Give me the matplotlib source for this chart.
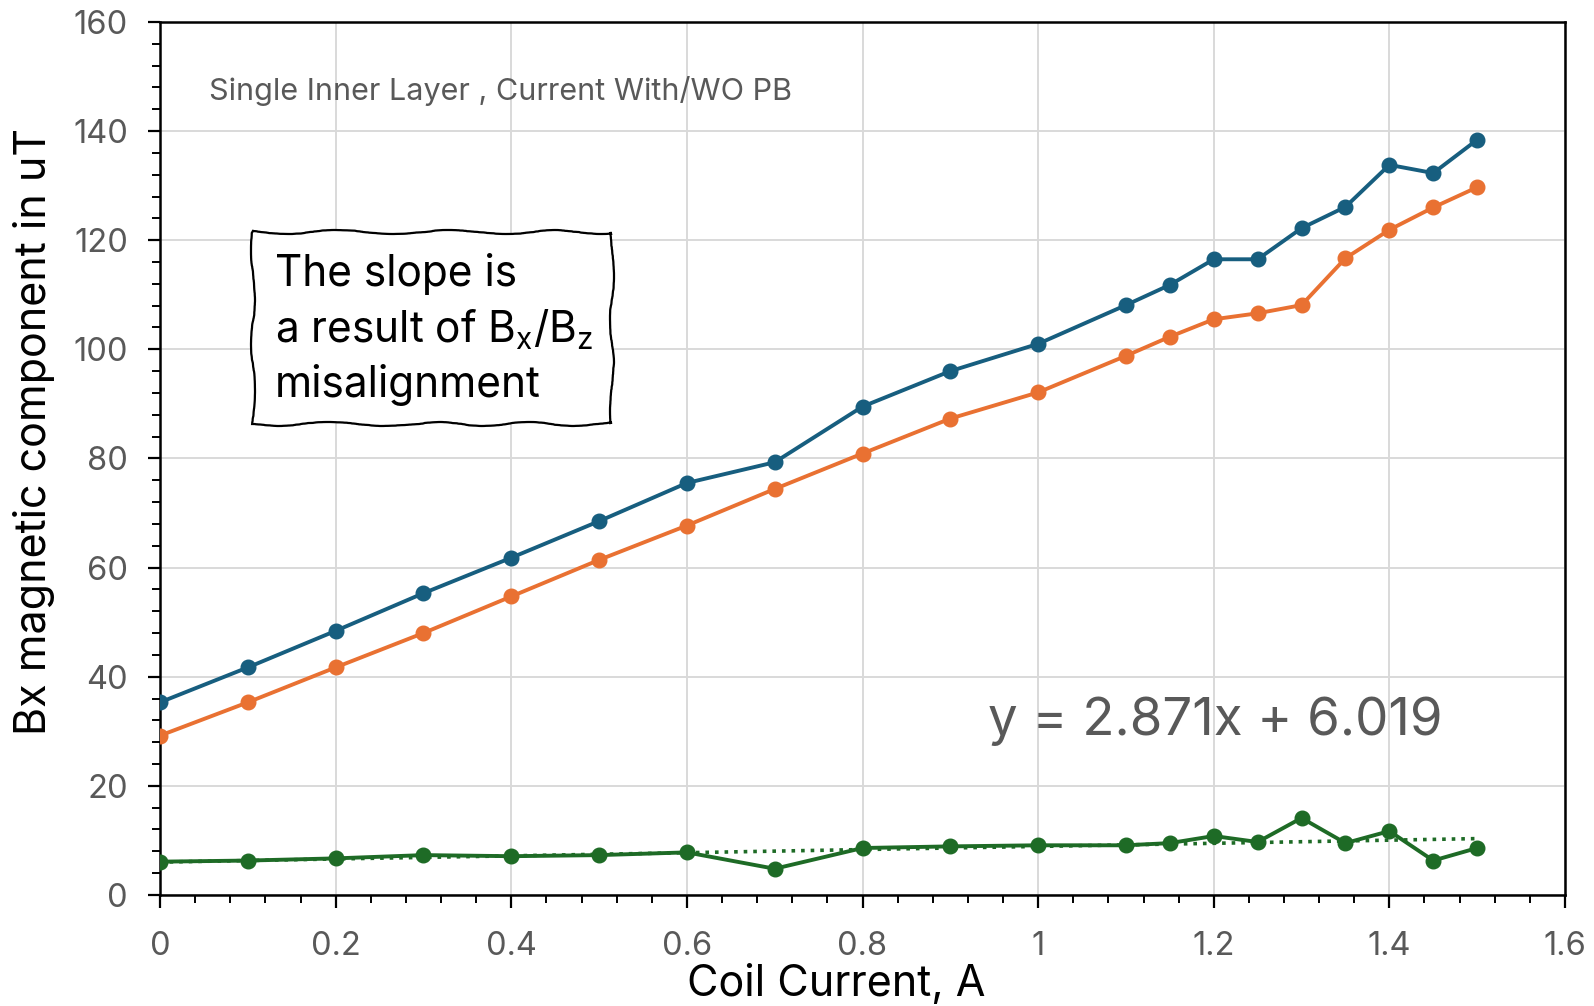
import matplotlib
matplotlib.use("Agg")
import matplotlib.pyplot as plt
from matplotlib.patches import Rectangle
from matplotlib.ticker import MultipleLocator
import numpy as np

current = [0, 0.1, 0.2, 0.3, 0.4, 0.5, 0.6, 0.7, 0.8, 0.9, 1.0,
           1.1, 1.15, 1.2, 1.25, 1.3, 1.35, 1.4, 1.45, 1.5]
bx_blue = [35.3, 41.7, 48.4, 55.3, 61.8, 68.5, 75.5, 79.3, 89.5, 96.0, 101.0,
           108.1, 111.8, 116.5, 116.5, 122.2, 126.1, 133.8, 132.3, 138.4]
bx_orange = [29.2, 35.3, 41.7, 48.0, 54.7, 61.4, 67.7, 74.4, 80.9, 87.3, 92.1,
             98.8, 102.3, 105.5, 106.6, 108.1, 116.7, 121.9, 126.0, 129.7]
bx_green = [6.1, 6.3, 6.7, 7.3, 7.1, 7.3, 7.8, 4.8, 8.6, 8.9, 9.1,
            9.1, 9.5, 10.8, 9.7, 14.1, 9.5, 11.7, 6.3, 8.6]
trend_slope = 2.871
trend_intercept = 6.019
xtick_labels = ['0', '0.2', '0.4', '0.6', '0.8', '1', '1.2', '1.4', '1.6']

plt.rcParams['font.family'] = ['Inter', 'DejaVu Sans']
plt.rcParams['mathtext.default'] = 'regular'

fig = plt.figure(figsize=(15.94, 10.06), dpi=100)
ax = fig.add_axes([0.1004, 0.1104, 0.8814, 0.8678])

blue = '#175E7F'
orange = '#E97132'
green = '#1E6B26'
gray_text = '#595959'

ax.plot(current, bx_blue, '-o', color=blue, lw=2.8, ms=10.5, zorder=4)
ax.plot(current, bx_orange, '-o', color=orange, lw=2.8, ms=10.5, zorder=4)
ax.plot(current, bx_green, '-o', color=green, lw=2.8, ms=10.5, zorder=4)
xt = np.array([current[0], current[-1]])
ax.plot(xt, trend_slope * xt + trend_intercept, ':', color=green, lw=2.6, zorder=3)

ax.set_xlim(0, 1.6)
ax.set_ylim(0, 160)
ax.set_xticks(np.arange(0, 1.61, 0.2))
ax.set_xticklabels(xtick_labels)
ax.xaxis.set_minor_locator(MultipleLocator(0.04))
ax.yaxis.set_major_locator(MultipleLocator(20))
ax.yaxis.set_minor_locator(MultipleLocator(4))
ax.grid(True, which='major', color='#D9D9D9', lw=1.4, zorder=0)
ax.set_axisbelow(True)
for s in ax.spines.values():
    s.set_color('black')
    s.set_linewidth(1.8)
ax.tick_params(which='major', direction='out', length=9, width=1.6,
               colors='black', labelcolor=gray_text, labelsize=23.5)
ax.tick_params(axis='x', which='major', pad=17)
ax.tick_params(axis='y', which='major', pad=14)
ax.tick_params(which='minor', direction='out', length=6, width=1.4, colors='black')
ax.tick_params(axis='y', which='both', right=False)
ax.tick_params(axis='x', which='both', top=False)

ax.set_xlabel('Coil Current, A', fontsize=31, color='black')
ax.xaxis.set_label_coords(0.481, -0.079)
ax.set_ylabel('Bx magnetic component in uT', fontsize=31, color='black')
ax.yaxis.set_label_coords(-0.075, 0.531)

ax.text(0.056, 147.4, 'Single Inner Layer , Current With/WO PB', fontsize=22,
        color=gray_text, va='center', ha='left')

ax.text(0.589, 31.9, 'y = 2.871x + 6.019', transform=ax.get_yaxis_transform(),
        fontsize=38, color=gray_text, va='center', ha='left')

box = Rectangle((0.066, 0.540), 0.256, 0.219, transform=ax.transAxes,
                facecolor='white', edgecolor='black', lw=1.6, zorder=5)
box.set_sketch_params(scale=2.0, length=140, randomness=4)
ax.add_patch(box)
ax.text(0.082, 0.648, 'The slope is\na result of B$_{x}$/B$_{z}$\nmisalignment',
        transform=ax.transAxes, fontsize=30.5, color='black', va='center',
        ha='left', linespacing=1.37, zorder=6)

fig.savefig('out.png', dpi=100)
